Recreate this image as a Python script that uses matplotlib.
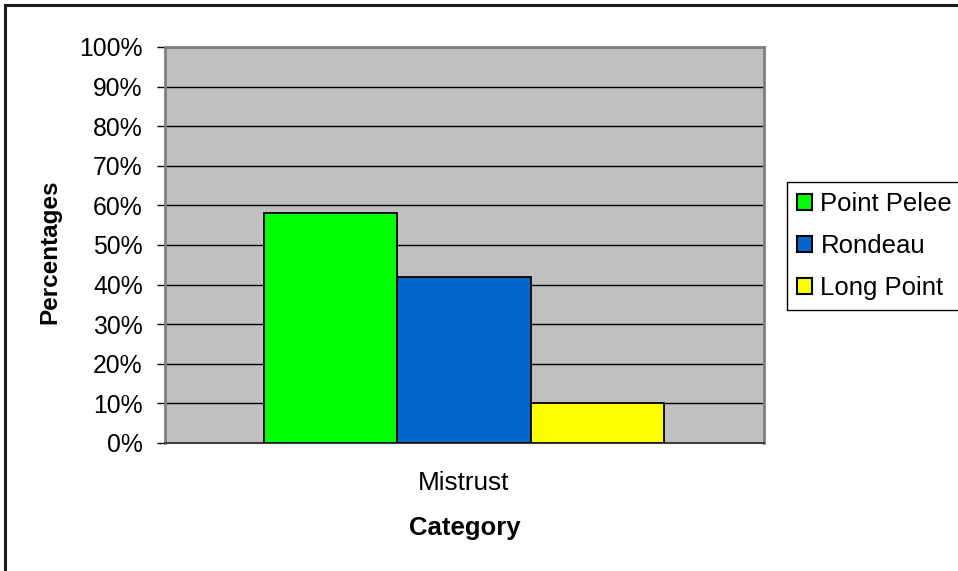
import matplotlib.pyplot as plt
from matplotlib.patches import Patch
from matplotlib.lines import Line2D
from matplotlib.ticker import MultipleLocator, PercentFormatter

plt.rcParams['font.family'] = ['Liberation Sans', 'DejaVu Sans']

# Survey result for the one category
category = 'Mistrust'
parks = ['Point Pelee', 'Rondeau', 'Long Point']
values = [58, 42, 10]
colors = ['#00FF00', '#0066CC', '#FFFF00']

W, H = 958, 571
fig = plt.figure(figsize=(W / 100, H / 100), dpi=100)
ax = fig.add_axes([165 / W, 1 - 443 / H, 599 / W, 396 / H])
ax.set_facecolor('#C0C0C0')

# three touching bars centred on the category
positions = [-1, 0, 1]
ax.bar(positions, values, width=1.0, color=colors, edgecolor='black',
       linewidth=1.3, zorder=3)

ax.set_xlim(-2.243, 2.25)
ax.set_ylim(0, 100)
ax.yaxis.set_major_locator(MultipleLocator(10))
ax.yaxis.set_major_formatter(PercentFormatter(decimals=0))
ax.grid(axis='y', color='black', linewidth=1.0, zorder=1)
ax.set_axisbelow(True)

ax.set_xticks([0])
ax.set_xticklabels([category])
ax.tick_params(axis='x', length=0, pad=20, labelsize=18.8)
ax.tick_params(axis='y', length=6, width=1, color='black', pad=10,
               labelsize=17.8, direction='out')

for side in ['top', 'right', 'left']:
    ax.spines[side].set_color('#808080')
    ax.spines[side].set_linewidth(2)
ax.spines['bottom'].set_color('#404040')
ax.spines['bottom'].set_linewidth(1.5)

fig.text(465 / W, 1 - 528 / H, 'Category', ha='center', va='center',
         fontsize=18.5, fontweight='bold')
fig.text(50 / W, 1 - 252 / H, 'Percentages', ha='center', va='center',
         rotation=90, fontsize=17.5, fontweight='bold')

handles = [Patch(facecolor=c, edgecolor='black', linewidth=1.5) for c in colors]
leg = fig.legend(handles, parks, loc='upper left',
                 bbox_to_anchor=(787 / W, 1 - 182 / H), fontsize=18.5,
                 frameon=True, fancybox=False, framealpha=1,
                 edgecolor='black', handlelength=0.6, handleheight=0.6,
                 handletextpad=0.32, labelspacing=0.7, borderpad=0.38,
                 borderaxespad=0)
leg.get_frame().set_linewidth(1.0)

# chart border along the top and left
fig.add_artist(Line2D([5 / W, 5 / W], [0, 1 - 5 / H], transform=fig.transFigure,
                      color='#1a1a1a', linewidth=2.2))
fig.add_artist(Line2D([5 / W, 1], [1 - 5 / H, 1 - 5 / H], transform=fig.transFigure,
                      color='#1a1a1a', linewidth=2.2))

fig.savefig('out.png', dpi=100)
